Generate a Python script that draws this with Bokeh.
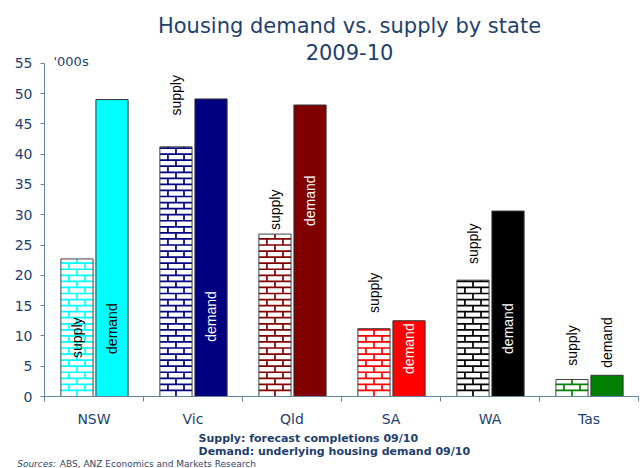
import numpy as np
from bokeh.plotting import figure
from bokeh.models import (ColumnDataSource, Range1d, FixedTicker, CustomJSTickFormatter, Label)
from bokeh.core.properties import value
from bokeh.embed import file_html
from bokeh.resources import INLINE

# ---------------- data ----------------
states = ["NSW", "Vic", "Qld", "SA", "WA", "Tas"]
supply = [22.7, 41.2, 26.8, 11.2, 19.2, 2.8]
demand = [49.0, 49.1, 48.1, 12.5, 30.6, 3.5]
state_colors = ["#00FFFF", "#000080", "#800000", "#FF0000", "#000000", "#008000"]
y_ticks = [0, 5, 10, 15, 20, 25, 30, 35, 40, 45, 50, 55]

# label anchors (data units on the y axis)
supply_label_y = [9.7, 49.7, 30.8, 17.1, 25.2, 8.4]
demand_label_y = [11.2, 13.2, 32.3, 7.9, 11.2, 8.9]
demand_label_colors = ["#000000", "#FFFFFF", "#FFFFFF", "#FFFFFF", "#FFFFFF", "#000000"]

title_line1 = "Housing demand vs. supply by state"
title_line2 = "2009-10"
unit_text = "'000s"
note1 = "Supply: forecast completions 09/10"
note2 = "Demand: underlying housing demand 09/10"
src_head = "Sources:"
src_body = "ABS, ANZ Economics and Markets Research"

# ---------------- layout constants ----------------
W, H = 644, 468
AX_LEFT_PX, CAT_PX = 44.0, 99.0          # y-axis position and category width (px)
Y0_PX, PX_PER_UNIT = 396.0, 6.06         # zero line and vertical scale (px)
SUP_OFF = -0.172
DEM_OFF = 0.182
BAR_W = 0.325
BRICK_H = 1.0                            # brick course height in y units
NAVY = "#1F3F6F"
AXIS_C = "#6483A5"

n = len(states)
centers = [i + 0.5 for i in range(n)]
bounds = list(range(n + 1))

x_start = -AX_LEFT_PX / CAT_PX
x_end = (W - AX_LEFT_PX) / CAT_PX
y_start = -(H - Y0_PX) / PX_PER_UNIT
y_end = Y0_PX / PX_PER_UNIT

p = figure(width=W, height=H, x_range=Range1d(x_start, x_end), y_range=Range1d(y_start, y_end),
           output_backend="svg", toolbar_location=None,
           min_border_left=0, min_border_right=0, min_border_top=0, min_border_bottom=0)
p.outline_line_color = None
p.grid.visible = False
p.background_fill_color = "white"
p.border_fill_color = "white"

# supply bars: white base, brick courses, outline
sup_x = [c + SUP_OFF for c in centers]
dem_x = [c + DEM_OFF for c in centers]
sup_src = ColumnDataSource(dict(x=sup_x, top=supply, col=state_colors))
dem_src = ColumnDataSource(dict(x=dem_x, top=demand, col=state_colors))

p.vbar(x="x", top="top", bottom=0, width=BAR_W, source=sup_src,
       fill_color="white", line_color=None)

bx0, by0, bx1, by1, bc = [], [], [], [], []
for xc, top, col in zip(sup_x, supply, state_colors):
    L, R = xc - BAR_W / 2, xc + BAR_W / 2
    k = 0
    while k * BRICK_H < top - 1e-9:
        ya = k * BRICK_H
        yb = min((k + 1) * BRICK_H, top)
        if k > 0:
            bx0.append(L); bx1.append(R); by0.append(ya); by1.append(ya); bc.append(col)
        joints = [L + BAR_W / 2] if k % 2 == 0 else [L + BAR_W / 4, L + 3 * BAR_W / 4]
        for jx in joints:
            bx0.append(jx); bx1.append(jx); by0.append(ya); by1.append(yb); bc.append(col)
        k += 1
brick_src = ColumnDataSource(dict(x0=bx0, y0=by0, x1=bx1, y1=by1, c=bc))
p.segment(x0="x0", y0="y0", x1="x1", y1="y1", line_color="c", line_width=1.7, source=brick_src)

p.vbar(x="x", top="top", bottom=0, width=BAR_W, source=sup_src,
       fill_color=None, line_color="#404040", line_width=1)
p.vbar(x="x", top="top", bottom=0, width=BAR_W, source=dem_src,
       fill_color="col", line_color="#333333", line_width=1)

lab_src = ColumnDataSource(dict(
    x=sup_x + dem_x,
    y=supply_label_y + demand_label_y,
    t=["supply"] * n + ["demand"] * n,
    c=["#000000"] * n + demand_label_colors))
p.text(x="x", y="y", text="t", angle=np.pi / 2, text_align="center", text_baseline="middle",
       text_color="c", text_font=value("Liberation Sans"), text_font_size="14px", source=lab_src)

# axes (fixed inside the frame)
xa = p.xaxis[0]
xa.fixed_location = 0
xa.bounds = (0, n)
xa.ticker = FixedTicker(ticks=centers, minor_ticks=bounds)
xa.formatter = CustomJSTickFormatter(args=dict(labels=states),
                                     code="return labels[Math.floor(tick)];")
xa.major_tick_out = 0
xa.major_tick_in = 0
xa.minor_tick_out = 5
xa.minor_tick_in = 0
xa.axis_line_color = AXIS_C
xa.minor_tick_line_color = AXIS_C
xa.major_label_standoff = 9
xa.major_label_text_font = "DejaVu Sans"
xa.major_label_text_font_size = "14px"
xa.major_label_text_color = NAVY

ya = p.yaxis[0]
ya.fixed_location = 0
ya.bounds = (0, 55)
ya.ticker = FixedTicker(ticks=y_ticks, minor_ticks=[])
ya.major_tick_out = 4
ya.major_tick_in = 0
ya.minor_tick_out = 0
ya.minor_tick_in = 0
ya.axis_line_color = AXIS_C
ya.major_tick_line_color = AXIS_C
ya.major_label_standoff = 8
ya.major_label_text_font = "DejaVu Sans"
ya.major_label_text_font_size = "14px"
ya.major_label_text_color = NAVY


def add_label(text, x_px, baseline_px, size, align="left", style="normal", color=NAVY):
    p.add_layout(Label(x=x_px, y=H - baseline_px, x_units="screen", y_units="screen", text=text,
                       text_font="DejaVu Sans", text_font_size=size, text_font_style=style,
                       text_color=color, text_align=align, text_baseline="alphabetic"))


add_label(title_line1, 349, 25, "21px", align="center")
add_label(title_line2, 349, 51.7, "21px", align="center")
add_label(unit_text, 53, 61, "13px")
add_label(note1, 198, 437.5, "11px", style="bold")
add_label(note2, 198, 450.5, "11px", style="bold")
add_label(src_head, 16.7, 463.5, "9px", style="italic", color="#34466A")
add_label(src_body, 59.3, 463.5, "9px", color="#34466A")

open("out.html", "w").write(file_html(p, INLINE))
